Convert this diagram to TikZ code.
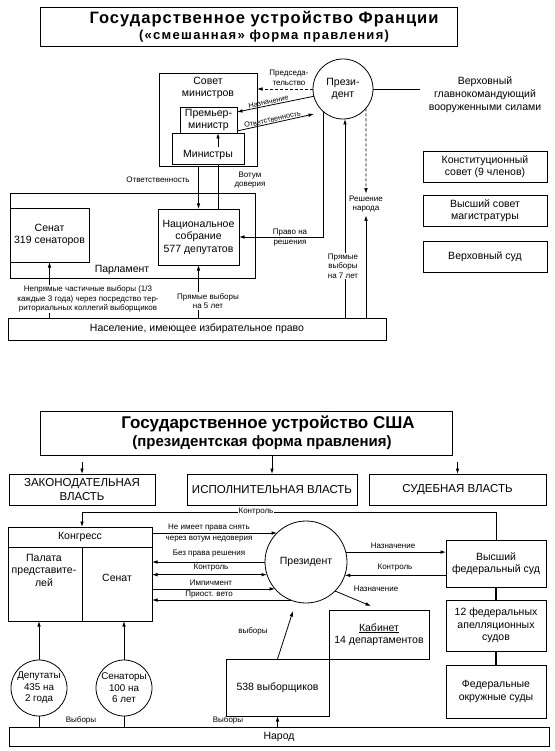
\documentclass[tikz,border=0pt]{standalone}
\usepackage{fontspec}
\setmainfont{Liberation Sans}
\usetikzlibrary{arrows.meta,calc}
\begin{document}
\begin{tikzpicture}[x=1pt,y=-1pt,
  every node/.style={inner sep=0pt,outer sep=0pt},
  bx/.style={draw,line width=0.8pt},
  T/.style={font=\fontsize{10.5}{12.5}\selectfont,align=center},
  TS/.style={font=\fontsize{9.8}{11.5}\selectfont,align=center},
  C/.style={font=\fontsize{11.5}{14}\selectfont,align=center},
  L/.style={font=\fontsize{8}{9.5}\selectfont,align=center},
  LS/.style={font=\fontsize{7.3}{8.5}\selectfont},
  ttlA/.style={font=\fontsize{16.5}{18}\selectfont\bfseries\addfontfeatures{LetterSpace=6}},
  ttlB/.style={font=\fontsize{13}{15}\selectfont\bfseries\addfontfeatures{LetterSpace=10}},
  ttlC/.style={font=\fontsize{17}{19}\selectfont\bfseries},
  ttlD/.style={font=\fontsize{15}{17}\selectfont\bfseries},
  ln/.style={line width=0.8pt},
  arr/.style={line width=0.8pt,-{Latex[length=5.5pt,width=3.6pt]}},
  darr/.style={line width=0.8pt,{Latex[length=5.5pt,width=3.6pt]}-{Latex[length=5.5pt,width=3.6pt]}},
  dsh/.style={dash pattern=on 3pt off 2pt},
  wt/.style={fill=white,inner sep=1pt},
]
\useasboundingbox (0,0) rectangle (554,751);

% ================= FRANCE =================
\node[bx,minimum width=417pt,minimum height=39pt] (titleF) at (248.5,26.5) {};
\node[ttlA] (tF1) at (264,19) {Государственное устройство Франции};
\node[ttlB] (tF2) at (264,36.5) {(«смешанная» форма правления)};

\node[bx,minimum width=98pt,minimum height=93pt] (sovet) at (208,119.5) {};
\node[T] (sovetT) at (208,88) {Совет\\министров};
\node[bx,minimum width=72pt,minimum height=31pt] (ministry) at (208,148.5) {};
\node[T] (ministryT) at (208,155) {Министры};
\node[bx,fill=white,T,minimum width=57pt,minimum height=26pt] (premier) at (208.5,120) {Премьер-\\министр};

\node[bx,circle,minimum size=60pt,T] (presF) at (343,89) {Прези-\\дент};
\node[T,font=\fontsize{10.5}{13}\selectfont] (cmd) at (485,95) {Верховный\\главнокомандующий\\вооруженными силами};
\coordinate (cmdL) at (420,89);
\draw[ln] (presF.east) -- (cmdL);

\draw[arr,dsh] (presF.west) -- (presF.west -| sovet.east);
\node[L] (predL) at (289,78) {Председа-\\тельство};

\coordinate (naznE) at (237,112);
\draw[arr] (presF.194) -- node[LS,sloped,above=1.2pt,pos=0.58] {Назначение} (naznE);
\coordinate (otvS) at (237,131);
\coordinate (otvE) at (314,114);
\draw[arr] (otvS) -- node[LS,sloped,above=1.2pt,pos=0.47] {Ответственность} (otvE);

\node[bx,minimum width=245pt,minimum height=85pt] (parl) at (132.5,235.5) {};
\node[T] (parlT) at (122,270) {Парламент};
\node[bx,T,minimum width=79pt,minimum height=54pt] (senat) at (49.5,235) {Сенат\\319 сенаторов};
\node[bx,T,minimum width=81pt,minimum height=56pt] (nat) at (198.5,237) {Национальное\\собрание\\577 депутатов};

\draw[arr] (sovet.south -| nat.north) -- (nat.north);
\node[L] (otvL) at (158,180) {Ответственность};
\draw[ln] ([xshift=19.5pt]nat.north) -- ([xshift=19.5pt]nat.north |- ministry.south);
\coordinate (vt) at (218,147);
\draw[arr] (vt) -- (vt |- premier.south);
\node[L] (votL) at (250,180) {Вотум\\доверия};

\draw[arr] (presF.228) |- (nat.east);
\node[L] (pravo1) at (290,232.5) {Право на};
\node[L] (pravo2) at (290,243.5) {решения};

\node[bx,T,minimum width=378pt,minimum height=22pt] (nas) at (197,329) {Население, имеющее избирательное право};
\coordinate (p7) at (345,318);
\draw[arr] (p7) -- (p7 |- presF.south);
\node[L,wt] (p7L) at (343,266) {Прямые\\выборы\\на 7 лет};
\node[L] (rn) at (366,204) {Решение\\народа};
\draw[arr,dsh] (presF.-40) -- ([yshift=2pt]rn.north);
\draw[arr] (rn |- nas.north) -- ([yshift=-3pt]rn.south);

\node[bx,T,minimum width=124pt,minimum height=31pt] (konst) at (485,166.5) {Конституционный\\совет (9 членов)};
\node[bx,T,minimum width=124pt,minimum height=31pt] (vsm) at (485,210.5) {Высший совет\\магистратуры};
\node[bx,T,minimum width=124pt,minimum height=31pt] (vsud) at (485,256.5) {Верховный суд};

\draw[arr] (senat.south |- nas.north) -- (senat.south);
\node[L,wt] (senL) at (88,299) {Непрямые частичные выборы (1/3\\каждые 3 года) через посредство тер-\\риториальных коллегий выборщиков};
\draw[arr] (nat.south |- nas.north) -- (nat.south);
\node[L,wt] (natL) at (208,301) {Прямые выборы\\на 5 лет};

% ================= USA =================
\node[bx,minimum width=412pt,minimum height=44pt] (titleU) at (246,433) {};
\node[ttlC] (tU1) at (268,424) {Государственное устройство США};
\node[ttlD] (tU2) at (262,443) {(президентская форма правления)};
\node[bx,C,minimum width=146pt,minimum height=31pt] (legis) at (82,489.5) {ЗАКОНОДАТЕЛЬНАЯ\\ВЛАСТЬ};
\node[bx,C,minimum width=170pt,minimum height=31pt] (exec) at (272,489.5) {ИСПОЛНИТЕЛЬНАЯ ВЛАСТЬ};
\node[bx,C,minimum width=177pt,minimum height=31pt] (jud) at (457.5,489.5) {СУДЕБНАЯ ВЛАСТЬ};
\draw[arr] ([yshift=12pt]legis.north) -- (legis.north);
\draw[arr] (titleU.south -| exec.north) -- (exec.north);
\draw[arr] ([yshift=12pt]jud.north) -- (jud.north);

\node[bx,minimum width=144pt,minimum height=94pt] (kong) at (80,574) {};
\draw[ln] ($(kong.north west)+(0,20)$) -- ($(kong.north east)+(0,20)$);
\draw[ln] ($(kong.south west)+(74,0)$) -- ($(kong.north west)+(74,20)$);
\node[T] (kongT) at (80,537) {Конгресс};
\node[T] (palT) at (44,570) {Палата\\представите-\\лей};
\node[T] (senU) at (117,578) {Сенат};

\node[bx,circle,minimum size=82pt,T] (presU) at (306,562) {Президент};

\draw[arr] (kong.east |- presU.135) -- (presU.135);
\node[L] at (209,528) {Не имеет права снять};
\node[L] at (209,539) {через вотум недоверия};
\draw[arr] (presU.west) -- (kong.east |- presU.west);
\node[L] at (209,554) {Без права решения};
\draw[darr] (kong.east |- presU.198) -- (presU.198);
\node[L] at (211,568) {Контроль};
\draw[arr] (kong.east |- presU.221) -- (presU.221);
\node[L] at (211,583) {Импичмент};
\draw[arr] (presU.248) -- (kong.east |- presU.248);
\node[L] at (209,595) {Приост. вето};

\node[bx,T,minimum width=100pt,minimum height=47pt] (vyssh) at (496,563.5) {Высший\\федеральный суд};
\draw[arr] (presU.14) -- (presU.14 -| vyssh.west);
\node[L] at (393,546) {Назначение};
\draw[arr] (vyssh.west |- presU.-19) -- (presU.-19);
\node[L] at (395,568) {Контроль};

\node[bx,T,minimum width=100pt,minimum height=49pt] (kab) at (379,634.5) {\underline{Кабинет}\\14 департаментов};
\coordinate (kabA) at (371,606);
\draw[arr] (presU.-45) -- (kabA);
\node[L] at (376,589) {Назначение};

\node[bx,T,minimum width=100pt,minimum height=51pt] (appel) at (496,625.5) {12 федеральных\\апелляционных\\судов};
\node[bx,T,minimum width=100pt,minimum height=53pt] (okr) at (496,691.5) {Федеральные\\окружные суды};
\draw[line width=1.8pt] (vyssh.south) -- (appel.north);
\draw[line width=1.8pt] (appel.south) -- (okr.north);

\coordinate (kt) at (82,512);
\draw[arr] (vyssh.north) |- (kt) -- (kt |- kong.north);
\node[L,wt] at (256,512) {Контроль};

\node[bx,circle,minimum size=56pt,TS] (dep) at (39,688) {Депутаты\\435 на\\2 года};
\node[bx,circle,minimum size=56pt,TS] (sen) at (124,688) {Сенаторы\\100 на\\6 лет};
\node[bx,T,minimum width=540pt,minimum height=19pt] (narod) at (279,736.5) {Народ};
\draw[arr] (dep.north) -- (dep.north |- kong.south);
\draw[arr] (sen.north) -- (sen.north |- kong.south);
\draw[ln] (dep.south) -- (dep.south |- narod.north);
\draw[ln] (sen.south) -- (sen.south |- narod.north);
\node[L] at (81,720) {Выборы};

\node[bx,T,minimum width=103pt,minimum height=57pt] (vyb) at (277.5,687.5) {538 выборщиков};
\draw[arr] (narod.north -| vyb.south) -- (vyb.south);
\node[L] at (228,720) {Выборы};
\coordinate (vybE) at (293,611);
\draw[arr] (vyb.north) -- (vybE);
\node[L] at (253,631) {выборы};
\end{tikzpicture}
\end{document}
